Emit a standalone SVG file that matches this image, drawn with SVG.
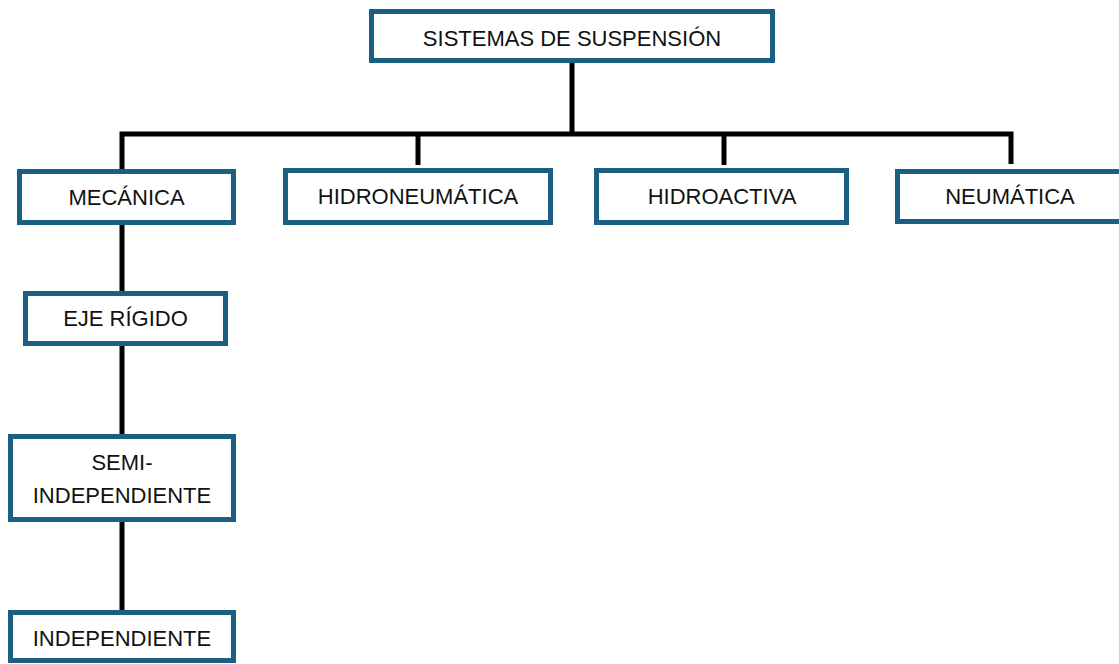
<svg xmlns="http://www.w3.org/2000/svg" width="1119" height="664" viewBox="0 0 1119 664">
<style>
.box{fill:#fff;stroke:#1b5f82;stroke-width:5}
.lbl{font-family:"Liberation Sans",Arial,sans-serif;font-size:22px;fill:#111;text-anchor:middle}
.con{fill:none;stroke:#000;stroke-width:5;stroke-linejoin:miter}
</style>
<rect width="1119" height="664" fill="#fff"/>
<g id="connectors">
<path class="con" d="M572 63V134"/>
<path class="con" d="M122 169V134H1011V164"/>
<path class="con" d="M418 134V165"/>
<path class="con" d="M724 134V165"/>
<path class="con" d="M122 225V291"/>
<path class="con" d="M122 346V434"/>
<path class="con" d="M122 522V610"/>
</g>
<g id="n-root"><rect class="box" x="371.5" y="11.5" width="401" height="49"/><text class="lbl" x="572" y="46">SISTEMAS DE SUSPENSIÓN</text></g>
<g id="n-mecanica"><rect class="box" x="19.5" y="171.5" width="214" height="51"/><text class="lbl" x="126.5" y="205">MECÁNICA</text></g>
<g id="n-hidroneumatica"><rect class="box" x="285.5" y="170.5" width="265" height="52"/><text class="lbl" x="418" y="204">HIDRONEUMÁTICA</text></g>
<g id="n-hidroactiva"><rect class="box" x="596.5" y="170.5" width="250" height="52"/><text class="lbl" x="722" y="204">HIDROACTIVA</text></g>
<g id="n-neumatica"><rect class="box" x="897.5" y="171.5" width="230" height="50"/><text class="lbl" x="1010" y="204">NEUMÁTICA</text></g>
<g id="n-eje"><rect class="box" x="25.5" y="293.5" width="200" height="50"/><text class="lbl" x="125.5" y="326">EJE RÍGIDO</text></g>
<g id="n-semi"><rect class="box" x="10.5" y="436.5" width="223" height="83"/><text class="lbl" x="122" y="470">SEMI-</text><text class="lbl" x="122" y="503">INDEPENDIENTE</text></g>
<g id="n-indep"><rect class="box" x="10.5" y="612.5" width="223" height="48"/><text class="lbl" x="122" y="646">INDEPENDIENTE</text></g>
</svg>
